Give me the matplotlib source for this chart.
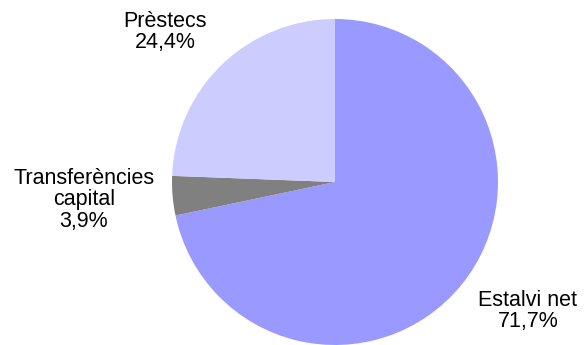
import matplotlib.pyplot as plt

# slice data (clockwise from 12 o'clock)
labels = ['Estalvi net', 'Transferències\ncapital', 'Prèstecs']
shares = [71.7, 3.9, 24.4]
colors = ['#9999FF', '#808080', '#CCCCFF']

plt.rcParams['font.family'] = ['Liberation Sans', 'DejaVu Sans']

fig = plt.figure(figsize=(5.84, 3.45), dpi=100)
ax = fig.add_axes([0, 0, 1, 1])

# pie in pixel-like coordinates
ax.pie(shares, colors=colors, startangle=90, counterclock=False,
       center=(335, 163), radius=163, frame=True,
       wedgeprops=dict(linewidth=0))
ax.set_xlim(0, 584)
ax.set_ylim(0, 345)
ax.set_aspect('equal')
ax.axis('off')

def pct(v):
    return ('%.1f%%' % v).replace('.', ',')

# label positions (pixel coords, y up)
pos = [(528, 34), (84, 145), (165, 313)]
for lab, v, (x, y) in zip(labels, shares, pos):
    ax.text(x, y, lab + '\n' + pct(v), ha='center', va='center',
            fontsize=15.5, linespacing=1.05, color='black')

fig.savefig('out.png', dpi=100)
